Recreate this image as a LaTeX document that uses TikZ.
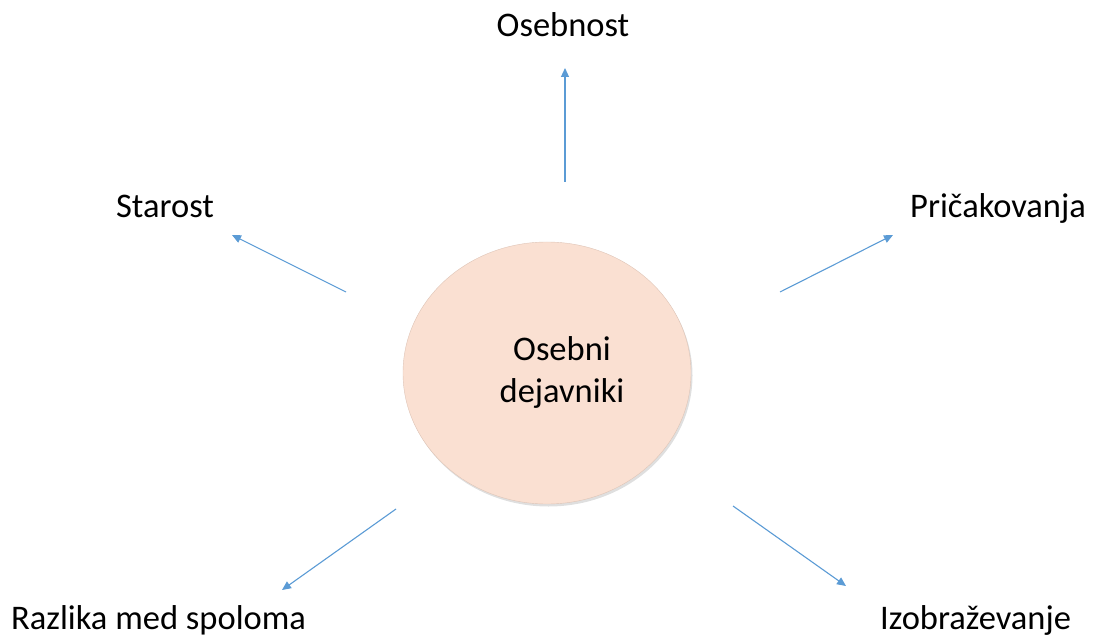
\documentclass[tikz,border=0pt]{standalone}
\usepackage{fontspec}
\setmainfont{Carlito}
\usepackage{tikz}
\usetikzlibrary{shapes.geometric, arrows.meta, shadows}
\definecolor{peach}{RGB}{250,224,210}
\definecolor{peachedge}{RGB}{222,196,182}
\definecolor{arrowblue}{RGB}{91,155,213}

\begin{document}
\begin{tikzpicture}[x=1pt, y=-1pt]
		\tikzstyle{core} = [ellipse, minimum width=288pt, minimum height=262pt, draw=peachedge, fill=peach, drop shadow={opacity=0.25, shadow xshift=1.5pt, shadow yshift=-2.5pt}]
		\tikzstyle{coretext} = [align=center, inner sep=0pt, font=\fontsize{34.5}{42}\selectfont]
		\tikzstyle{factor} = [anchor=base, inner sep=0pt, font=\fontsize{34.5}{42}\selectfont]
		\tikzstyle{line} = [draw=arrowblue, line width=1.1pt, -{Triangle[length=9pt, width=8pt]}]
		\useasboundingbox (0,0) rectangle (1095,639);
		\node (center) [core] at (547,373) {};
		\node (centertext) [coretext] at (562,372) {Osebni\\dejavniki};
		\node (osebnost) [factor] at (563,37) {Osebnost};
		\node (starost) [factor] at (165,218) {Starost};
		\node (pricakovanja) [factor] at (998,218) {Pričakovanja};
		\node (razlika) [factor, anchor=base west] at (11,629) {Razlika med spoloma};
		\node (izobrazevanje) [factor, anchor=base west] at (880,629) {Izobraževanje};
		% free arrow ends
		\coordinate (up1) at (565,182);
		\coordinate (up2) at (565,68);
		\coordinate (ul1) at (346,292);
		\coordinate (ul2) at (232,235);
		\coordinate (ur1) at (780,292);
		\coordinate (ur2) at (893,235);
		\coordinate (ll1) at (396,509);
		\coordinate (ll2) at (282,590);
		\coordinate (lr1) at (733,506);
		\coordinate (lr2) at (846,586);
 
		\path [line] (up1) -- (up2);
		\path [line] (ul1) -- (ul2);
		\path [line] (ur1) -- (ur2);
		\path [line] (ll1) -- (ll2);
		\path [line] (lr1) -- (lr2);
		
	\end{tikzpicture}
\end{document}
